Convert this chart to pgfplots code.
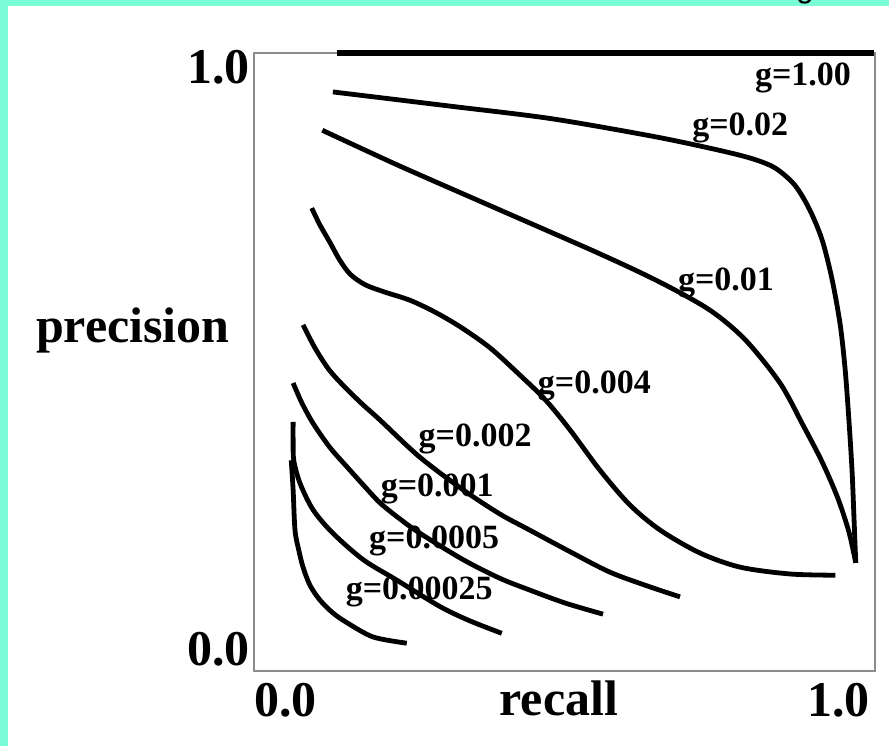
\documentclass[border=0pt]{standalone}
\usepackage{fontspec}
\setmainfont{Liberation Serif}
\newfontfamily\cutfont{Liberation Sans}
\usepackage{pgfplots}
\pgfplotsset{compat=1.18}

\definecolor{framegreen}{HTML}{7AFCD6}
\definecolor{axisgray}{HTML}{8C8C8C}

\tikzset{
    lbl/.style={inner sep=0, font=\fontsize{17}{20}\selectfont\bfseries},
    big/.style={inner sep=0, font=\fontsize{25}{30}\selectfont\bfseries},
}
\pgfplotsset{curve/.style={black, solid, line width=2.4pt, mark=none, smooth, tension=0.5}}

\begin{document}
\begin{tikzpicture}
% page: 889x746 px at 0.5pt per px
\useasboundingbox (0,0) rectangle (444.5pt,373pt);
\fill[framegreen] (0,0) rectangle (444.5pt,373pt);
\fill[white] (4pt,0) rectangle (444.5pt,370pt);
\node[anchor=base, inner sep=0, font=\cutfont\fontsize{16}{18}\selectfont] at (402.5pt,374.4pt) {g};

\begin{axis}[
    at={(127pt,37.5pt)}, anchor=south west,
    scale only axis,
    width=310.5pt, height=309pt,
    xmin=0, xmax=1, ymin=0, ymax=1,
    xtick=\empty, ytick=\empty,
    axis line style={draw=axisgray, line width=1.4pt},
    clip=false,
]
% axis text
\node[big, anchor=north west] at (axis cs:0,0) [yshift=-6pt] {0.0};
\node[big, anchor=north east] at (axis cs:1,0) [xshift=-2.5pt, yshift=-6pt] {1.0};
\node[big, anchor=north east] at (axis cs:0,1) [xshift=-2pt, yshift=1.5pt] {1.0};
\node[big, anchor=base east] at (axis cs:0,0) [xshift=-2pt, yshift=3pt] {0.0};
\node[big, anchor=base east] at (axis cs:0,0.531) [xshift=-12pt] {precision};
\node[big, anchor=base] at (axis cs:0.491,0) [yshift=-22pt] {recall};

% curve labels, under the curves
\node[lbl] at (axis cs:0.884,0.960) {g=1.00};
\node[lbl] at (axis cs:0.783,0.879) {g=0.02};
\node[lbl] at (axis cs:0.760,0.628) {g=0.01};
\node[lbl] at (axis cs:0.548,0.461) {g=0.004};
\node[lbl] at (axis cs:0.356,0.375) {g=0.002};
\node[lbl] at (axis cs:0.295,0.294) {g=0.001};
\node[lbl] at (axis cs:0.290,0.210) {g=0.0005};
\node[lbl] at (axis cs:0.266,0.128) {g=0.00025};

% g=1.00
\addplot[black, line width=3pt, mark=none] coordinates {(0.134,1.0) (0.998,1.0)};
% g=0.02
\addplot[curve] coordinates {
(0.127,0.937) (0.316,0.914) (0.477,0.894) (0.638,0.866) (0.734,0.846)
(0.799,0.830) (0.839,0.814) (0.871,0.786) (0.895,0.746) (0.915,0.697)
(0.931,0.633) (0.944,0.560) (0.952,0.487) (0.958,0.406) (0.963,0.325)
(0.966,0.252) (0.969,0.175)
};
% g=0.01
\addplot[curve] coordinates {
(0.110,0.875) (0.235,0.817) (0.396,0.746) (0.557,0.675) (0.654,0.629)
(0.734,0.584) (0.791,0.536) (0.847,0.466) (0.884,0.398) (0.915,0.338)
(0.940,0.280) (0.958,0.225) (0.969,0.175)
};
% g=0.004
\addplot[curve] coordinates {
(0.093,0.749) (0.106,0.722) (0.122,0.694) (0.138,0.665) (0.155,0.642)
(0.179,0.625) (0.211,0.613) (0.251,0.600) (0.291,0.581) (0.332,0.557)
(0.380,0.523) (0.428,0.479) (0.469,0.439) (0.509,0.390) (0.557,0.325)
(0.605,0.269) (0.654,0.228) (0.718,0.191) (0.783,0.168) (0.863,0.157)
(0.936,0.155)
};
% g=0.002
\addplot[curve] coordinates {
(0.079,0.560) (0.098,0.523) (0.119,0.490) (0.138,0.468) (0.171,0.435)
(0.203,0.406) (0.267,0.346) (0.337,0.293) (0.396,0.254) (0.444,0.228)
(0.509,0.193) (0.573,0.160) (0.638,0.136) (0.686,0.120)
};
% g=0.001
\addplot[curve] coordinates {
(0.063,0.466) (0.077,0.434) (0.095,0.401) (0.122,0.362) (0.150,0.330)
(0.176,0.301) (0.203,0.272) (0.235,0.246) (0.267,0.223) (0.337,0.180)
(0.396,0.150) (0.444,0.131) (0.501,0.110) (0.562,0.092)
};
% g=0.0005
\addplot[curve] coordinates {
(0.063,0.403) (0.063,0.374) (0.064,0.341) (0.074,0.304) (0.095,0.261)
(0.127,0.223) (0.176,0.180) (0.230,0.147) (0.300,0.104) (0.348,0.081)
(0.399,0.061)
};
% g=0.00025
\addplot[curve] coordinates {
(0.060,0.341) (0.063,0.293) (0.066,0.228) (0.072,0.196) (0.079,0.168)
(0.090,0.139) (0.106,0.115) (0.127,0.094) (0.150,0.078) (0.192,0.055)
(0.246,0.045)
};
\end{axis}
\end{tikzpicture}
\end{document}
